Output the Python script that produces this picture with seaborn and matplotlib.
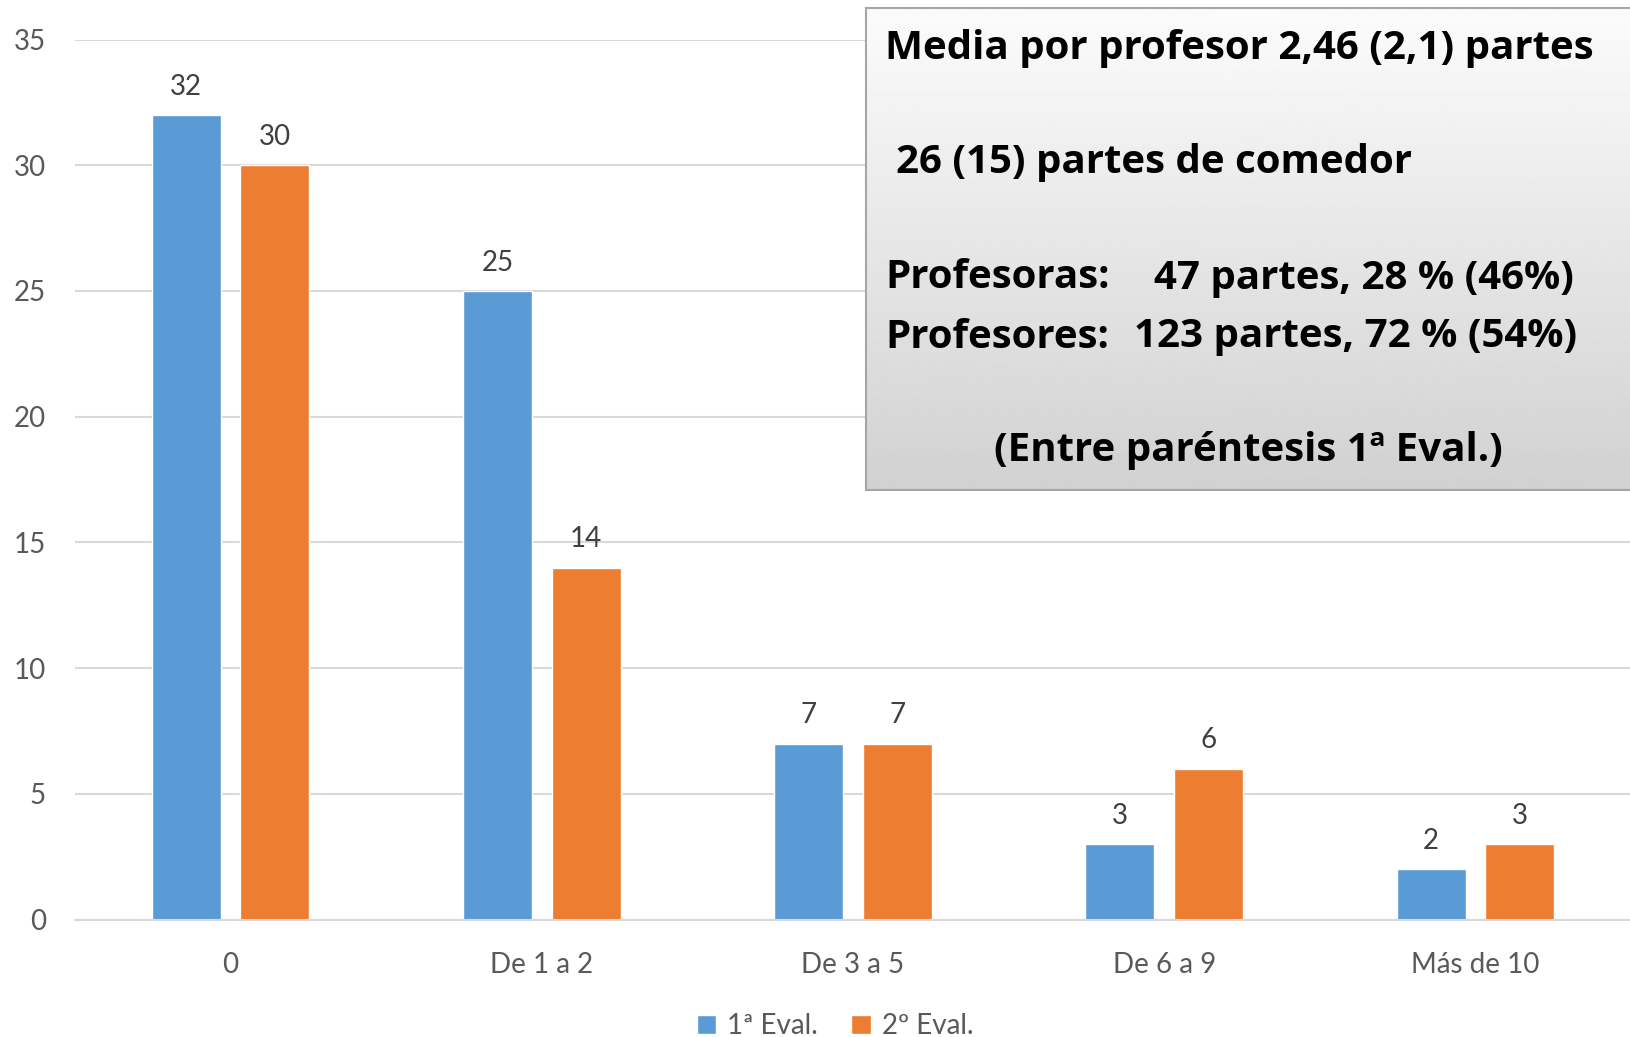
import numpy as np
import pandas as pd
import matplotlib
matplotlib.use("Agg")
import matplotlib.pyplot as plt
import seaborn as sns

# data
rangos = ["0", "De 1 a 2", "De 3 a 5", "De 6 a 9", "Más de 10"]
eval1 = [32, 25, 7, 3, 2]
eval2 = [30, 14, 7, 6, 3]
series = ["1ª Eval.", "2º Eval."]
colores = ["#5B9BD5", "#ED7D31"]

df = pd.DataFrame({
    "rango": rangos * 2,
    "partes": eval1 + eval2,
    "eval": [series[0]] * len(rangos) + [series[1]] * len(rangos),
})

sns.set_theme(style="white")
plt.rcParams["font.family"] = ["Lato", "DejaVu Sans"]

W, H = 1631, 1037
fig = plt.figure(figsize=(W / 100, H / 100), dpi=100)
ax = fig.add_axes([75 / W, 1 - 919.6 / H, 1 - 75 / W, (919.6 - 39.5) / H])

sns.barplot(data=df, x="rango", y="partes", hue="eval", palette=colores,
            width=0.57, gap=0.222, ax=ax, saturation=1, legend=True)

ax.set_ylim(0, 35)
ax.set_yticks(range(0, 36, 5))
ax.yaxis.grid(True, color="#D9D9D9", linewidth=1.5)
ax.set_axisbelow(True)
for s in ["top", "right", "left"]:
    ax.spines[s].set_visible(False)
ax.spines["bottom"].set_color("#D9D9D9")
ax.spines["bottom"].set_linewidth(1.5)
ax.tick_params(axis="both", length=0, labelsize=20, labelcolor="#595959")
ax.tick_params(axis="y", pad=21)
ax.tick_params(axis="x", pad=23)
ax.set_xlabel("")
ax.set_ylabel("")

for c in ax.containers:
    ax.bar_label(c, padding=11, fontsize=20, color="#404040")

handles, labels = ax.get_legend_handles_labels()
ax.get_legend().remove()
fig.legend(handles, labels, loc="lower center", bbox_to_anchor=(0.512, -0.026),
           ncol=2, frameon=False, fontsize=20, handlelength=0.7, handleheight=0.7,
           handletextpad=0.4, columnspacing=1.2, labelcolor="#595959")

# text box with gradient
bx0, by0, bx1, by1 = 866, 8, 1640, 490
box = fig.add_axes([bx0 / W, 1 - by1 / H, (bx1 - bx0) / W, (by1 - by0) / H])
grad = np.linspace(0.985, 0.82, 256).reshape(-1, 1)
box.imshow(grad, cmap="gray", vmin=0, vmax=1, aspect="auto", extent=[0, 1, 0, 1])
box.set_xticks([])
box.set_yticks([])
for s in box.spines.values():
    s.set_color("#A6A6A6")
    s.set_linewidth(1.5)

def t(xpx, ypx, s, ha="left"):
    fig.text(xpx / W, 1 - ypx / H, s, ha=ha, va="center", fontsize=29,
             fontweight="bold", color="black", family=["Open Sans", "DejaVu Sans"])

t(885, 49, "Media por profesor 2,46 (2,1) partes")
t(896, 163, "26 (15) partes de comedor")
t(885, 278, "Profesoras:")
t(1154, 278, "47 partes, 28 % (46%)")
t(885, 337, "Profesores:")
t(1134, 337, "123 partes, 72 % (54%)")
t(1248, 451, "(Entre paréntesis 1ª Eval.)", ha="center")

fig.savefig("out.png", dpi=100)
